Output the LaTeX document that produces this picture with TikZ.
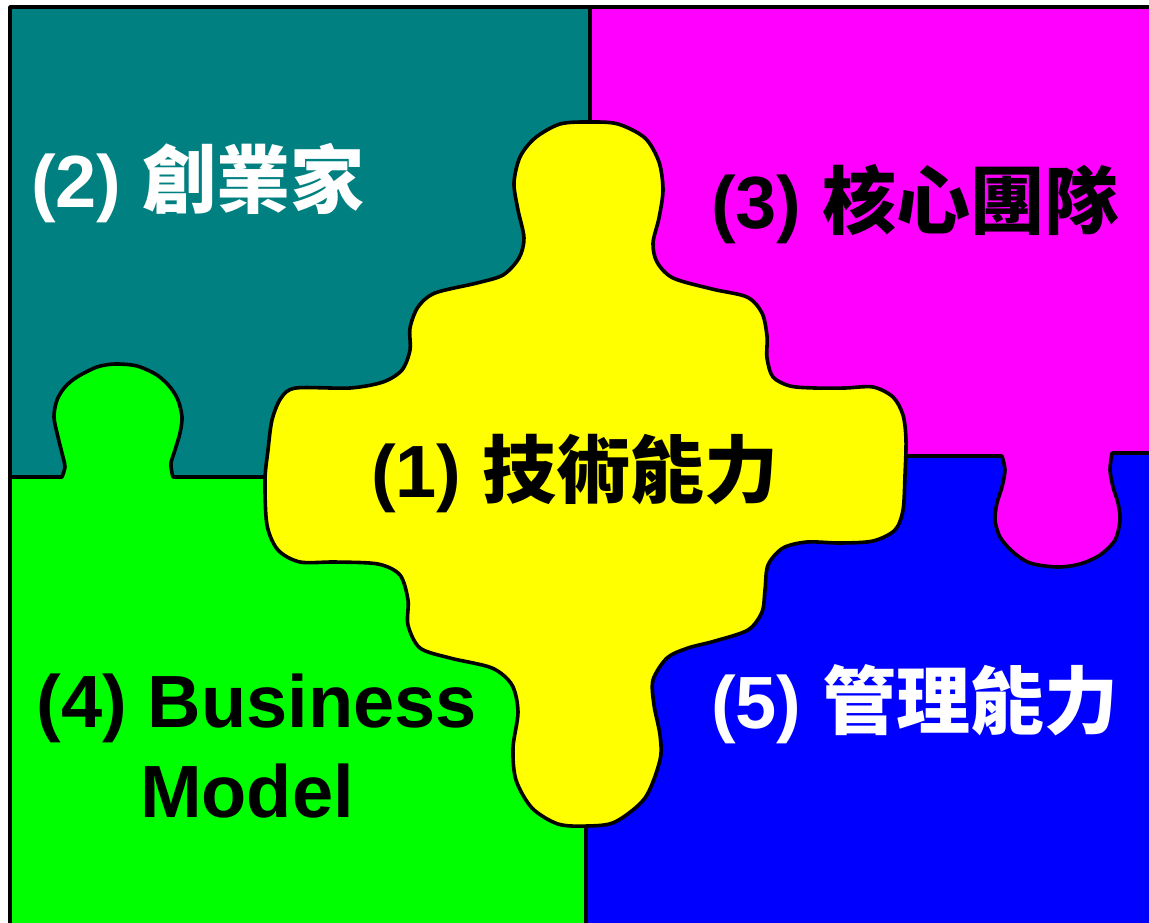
\documentclass[tikz,border=0pt]{standalone}
\usepackage{fontspec}
\setmainfont{Liberation Sans}
\newfontfamily\cjk{Noto Sans CJK TC}
\definecolor{tealc}{HTML}{008080}
\definecolor{magc}{HTML}{FF00FF}
\definecolor{greenc}{HTML}{00FF00}
\definecolor{bluec}{HTML}{0000FF}
\definecolor{yelc}{HTML}{FFFF00}
\tikzset{
  edge/.style={draw=black, line width=3.6pt, line join=round},
  lbl/.style={anchor=base west, inner sep=0pt, font=\fontsize{74}{90}\selectfont\bfseries},
}
\begin{document}
\begin{tikzpicture}[x=1pt,y=-1pt]
\useasboundingbox (0,0) rectangle (1149,922);
\clip (0,0) rectangle (1149,922);
\fill[white] (0,0) rectangle (1149,922);
% quadrant fills
\fill[tealc] (10,7) rectangle (590,477);
\fill[bluec] (586,455) rectangle (1160,930);
\fill[magc] (590,7) -- (1160,7) -- (1160,453) -- plot[smooth] coordinates {(1112,453) (1110,470) (1113,487) (1118,503) (1120,520) (1115,540) (1100,555) (1080,564) (1057,567) (1030,563) (1013,552) (1000,537) (995,520) (997,503) (1002,487) (1005,470) (1002,456)} -- (590,456) -- cycle;
\fill[greenc] (10,930) -- (10,477) -- plot[smooth] coordinates {(62,477) (65,467) (63,457) (58,437) (54,417) (57,400) (65,387) (77,377) (97,367) (115,364) (137,366) (157,375) (170,387) (178,400) (182,417) (180,433) (175,450) (171,463) (172,473) (173,477)} -- (586,477) -- (586,930) -- cycle;
% boundary lines
\draw[edge] (10,477) -- plot[smooth] coordinates {(62,477) (65,467) (63,457) (58,437) (54,417) (57,400) (65,387) (77,377) (97,367) (115,364) (137,366) (157,375) (170,387) (178,400) (182,417) (180,433) (175,450) (171,463) (172,473) (173,477)} -- (320,477);
\draw[edge] (860,456) -- plot[smooth] coordinates {(1002,456) (1005,470) (1002,487) (997,503) (995,520) (1000,537) (1013,552) (1030,563) (1057,567) (1080,564) (1100,555) (1115,540) (1120,520) (1118,503) (1113,487) (1110,470) (1112,453)} -- (1160,453);
\draw[edge] (590,7) -- (590,200);
\draw[edge] (586,700) -- (586,930);
\draw[edge] (10,930) -- (10,7) -- (1160,7);
% central yellow piece
\filldraw[edge, fill=yelc] plot[smooth cycle] coordinates {
(560,124) (590,122) (618,124) (645,138) (659,162) (663,190) (659,218) (653,243) (657,262) (673,278) (712,289) (747,297) (762,313) (767,336) (767,358) (773,377) (790,386) (815,388) (845,388) (873,387) (893,397) (903,415) (906,440) (905,475) (903,510) (895,530) (873,541) (840,543) (807,542) (783,548) (768,565) (765,590) (762,612) (748,630) (715,641) (688,648) (667,658) (653,680) (654,705) (660,735) (660,760) (645,798) (615,822) (587,826) (558,824) (532,808) (516,780) (513,748) (518,712) (512,685) (492,668) (450,658) (420,648) (408,625) (408,600) (400,575) (378,564) (335,562) (300,562) (278,550) (267,525) (265,480) (268,450) (272,420) (281,398) (296,388) (350,388) (383,382) (402,370) (410,350) (410,328) (418,307) (435,293) (477,283) (503,275) (519,258) (524,238) (518,210) (514,183) (520,157) (535,138)};
% labels
\node[lbl, text=white] (t2) at (31,207) {(2) {\cjk 創業家}};
\node[lbl, text=black] (t3) at (711,228) {(3) {\cjk 核心團隊}};
\node[lbl, text=black] (t1) at (371,497) {(1) {\cjk 技術能力}};
\node[lbl, anchor=base, text=black] (t4a) at (257,727) {(4) Business};
\node[lbl, anchor=base, text=black] (t4b) at (247,817) {Model};
\node[lbl, text=white] (t5) at (711,728) {(5) {\cjk 管理能力}};
\end{tikzpicture}
\end{document}
